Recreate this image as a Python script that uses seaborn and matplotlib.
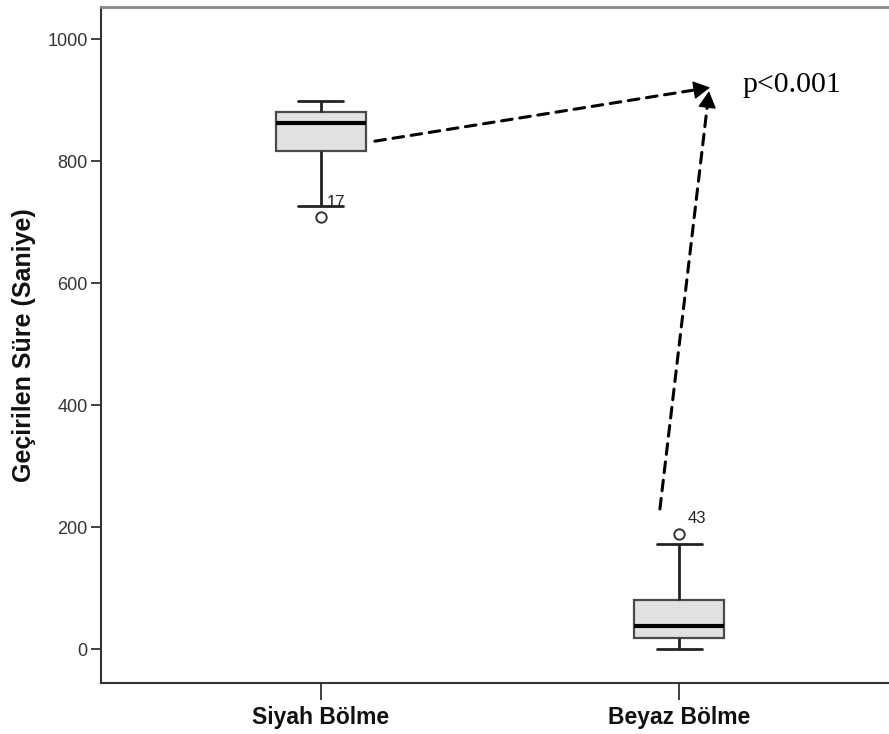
import matplotlib
matplotlib.use("Agg")
import matplotlib.pyplot as plt
import seaborn as sns
import pandas as pd

# ---- data ----
groups = ["Siyah Bölme", "Beyaz Bölme"]
whisker_low = [726, 0]
quartile1 = [817, 19]
medians = [862, 38]
quartile3 = [880, 81]
whisker_high = [899, 173]
outliers = [[709], [189]]
outlier_ids = ["17", "43"]
y_ticks = [0, 200, 400, 600, 800, 1000]
p_text = "p<0.001"

# Observations rebuilt so that the box statistics equal the values above
rows = []
for g, lo, q1, m, q3, hi, fl in zip(groups, whisker_low, quartile1, medians,
                                      quartile3, whisker_high, outliers):
    n_low = sum(1 for f in fl if f < lo)
    n_high = len(fl) - n_low
    vals = list(fl) + [lo] * (2 - n_low) + [q1] * 2 + [m] * 3 + [q3] * 3 + [hi] * (3 - n_high)
    rows += [{"grup": g, "sure": v} for v in vals]
df = pd.DataFrame(rows)

sns.set_theme(style="white")
plt.rcParams["font.family"] = ["Liberation Sans", "DejaVu Sans"]

fig = plt.figure(figsize=(8.89, 7.34), dpi=100)
ax = fig.add_axes([0.1136, 0.0699, 0.8864, 0.9206])

sns.boxplot(data=df, x="grup", y="sure", order=groups, ax=ax, width=0.25,
            saturation=1, color="#e1e1e1",
            boxprops=dict(facecolor="#e1e1e1", edgecolor="#4a4a4a", linewidth=1.6),
            whiskerprops=dict(color="#222222", linewidth=2.0),
            capprops=dict(color="#222222", linewidth=2.0),
            medianprops=dict(color="black", linewidth=3.0),
            flierprops=dict(marker="o", markerfacecolor="white", markeredgecolor="#333333",
                            markersize=7.5, markeredgewidth=1.4))

ax.set_xlim(-0.613, 1.585)
ax.set_ylim(-54.8, 1053)
ax.set_yticks(y_ticks)
ax.set_yticklabels([str(t) for t in y_ticks])

ax.set_xlabel("")
ax.set_ylabel("Geçirilen Süre (Saniye)", fontsize=18, fontweight="bold", color="#111111")
ax.yaxis.set_label_coords(-0.083, 0.5)

ax.tick_params(axis="y", which="both", left=True, length=7.5, width=1.3, color="#333333",
               labelsize=13, labelcolor="#333333", pad=2)
ax.tick_params(axis="x", which="both", bottom=True, length=12, width=1.3, color="#333333",
               labelsize=16.5, labelcolor="#111111", pad=5)
for lab in ax.get_xticklabels():
    lab.set_fontweight("bold")

ax.spines["right"].set_visible(False)
ax.spines["left"].set_color("#333333")
ax.spines["left"].set_linewidth(1.5)
ax.spines["bottom"].set_color("#333333")
ax.spines["bottom"].set_linewidth(1.5)
ax.spines["top"].set_color("#888888")
ax.spines["top"].set_linewidth(2.0)

# outlier case labels
label_offsets = [(4.3, 7.0), (5.8, 8.0)]
for i, (fl, lab) in enumerate(zip(outliers, outlier_ids)):
    for f in fl:
        ax.annotate(lab, xy=(i, f), xytext=label_offsets[i], textcoords="offset points",
                    fontsize=12, color="#222222", ha="left", va="baseline")

# dashed arrows
arrows = [((0.151, 833), (1.086, 921)), ((0.946, 230), (1.083, 915))]
for (x0, y0), (x1, y1) in arrows:
    ax.annotate("", xy=(x1, y1), xytext=(x0, y0),
                arrowprops=dict(arrowstyle="-", linestyle=(0, (3.5, 2.5)), lw=2.2,
                                color="black", shrinkA=0, shrinkB=8))
    ax.annotate("", xy=(x1, y1), xytext=(x0 + (x1 - x0) * 0.97, y0 + (y1 - y0) * 0.97),
                arrowprops=dict(arrowstyle="-|>,head_length=0.7,head_width=0.38",
                                lw=1.0, color="black", shrinkA=0, shrinkB=0,
                                mutation_scale=15))

ax.text(1.177, 914, p_text, fontsize=21.5, family=["Liberation Serif", "DejaVu Serif"],
        ha="left", va="baseline", color="black")

fig.savefig("out.png", dpi=100)
